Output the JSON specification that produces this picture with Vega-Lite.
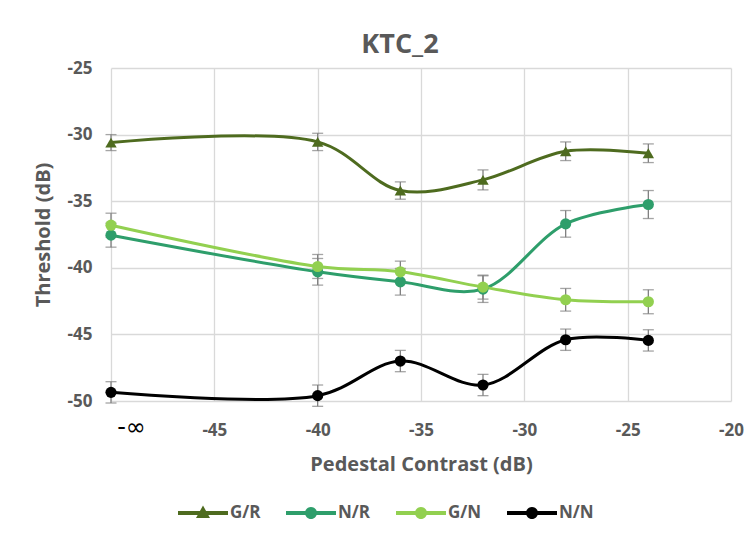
{
  "$schema": "https://vega.github.io/schema/vega-lite/v6.json",
  "width": 620,
  "height": 333,
  "autosize": {"type": "none"},
  "padding": {"left": 111, "top": 68, "right": 21, "bottom": 140},
  "background": "white",
  "title": {"text": "KTC_2", "fontSize": 27, "font": "Open Sans", "fontWeight": "bold", "color": "#595959", "anchor": "middle", "dx": -21, "offset": 0},
  "config": {
    "view": {"stroke": null},
    "font": "Open Sans",
    "axis": {
      "grid": true, "gridColor": "#d9d9d9", "gridWidth": 1.3,
      "domain": false, "ticks": false,
      "labelFont": "Open Sans", "labelFontSize": 17, "labelFontWeight": "bold", "labelColor": "#595959",
      "titleFont": "Open Sans", "titleFontSize": 20, "titleColor": "#595959", "titleFontWeight": "bold"
    }
  },
  "data": {"values": [
    {"s": "G/R", "x": -50, "y": -30.6, "lo": -31.2, "hi": -30.0},
    {"s": "G/R", "x": -40, "y": -30.55, "lo": -31.2, "hi": -29.9},
    {"s": "G/R", "x": -36, "y": -34.2, "lo": -34.85, "hi": -33.55},
    {"s": "G/R", "x": -32, "y": -33.4, "lo": -34.15, "hi": -32.65},
    {"s": "G/R", "x": -28, "y": -31.25, "lo": -31.95, "hi": -30.55},
    {"s": "G/R", "x": -24, "y": -31.4, "lo": -32.1, "hi": -30.7},
    {"s": "N/R", "x": -50, "y": -37.55, "lo": -38.45, "hi": -36.65},
    {"s": "N/R", "x": -40, "y": -40.3, "lo": -41.3, "hi": -39.3},
    {"s": "N/R", "x": -36, "y": -41.05, "lo": -42.05, "hi": -40.05},
    {"s": "N/R", "x": -32, "y": -41.6, "lo": -42.6, "hi": -40.6},
    {"s": "N/R", "x": -28, "y": -36.7, "lo": -37.7, "hi": -35.7},
    {"s": "N/R", "x": -24, "y": -35.25, "lo": -36.3, "hi": -34.2},
    {"s": "G/N", "x": -50, "y": -36.8, "lo": -37.7, "hi": -35.9},
    {"s": "G/N", "x": -40, "y": -39.9, "lo": -40.8, "hi": -39.0},
    {"s": "G/N", "x": -36, "y": -40.3, "lo": -41.1, "hi": -39.5},
    {"s": "G/N", "x": -32, "y": -41.45, "lo": -42.35, "hi": -40.55},
    {"s": "G/N", "x": -28, "y": -42.4, "lo": -43.25, "hi": -41.55},
    {"s": "G/N", "x": -24, "y": -42.55, "lo": -43.45, "hi": -41.65},
    {"s": "N/N", "x": -50, "y": -49.35, "lo": -50.15, "hi": -48.55},
    {"s": "N/N", "x": -40, "y": -49.6, "lo": -50.4, "hi": -48.8},
    {"s": "N/N", "x": -36, "y": -47.0, "lo": -47.8, "hi": -46.2},
    {"s": "N/N", "x": -32, "y": -48.8, "lo": -49.6, "hi": -48.0},
    {"s": "N/N", "x": -28, "y": -45.4, "lo": -46.2, "hi": -44.6},
    {"s": "N/N", "x": -24, "y": -45.45, "lo": -46.25, "hi": -44.65}
  ]},
  "encoding": {
    "x": {
      "field": "x", "type": "quantitative",
      "scale": {"domain": [-50, -20], "nice": false, "zero": false},
      "axis": {
        "values": [-50, -45, -40, -35, -30, -25, -20],
        "title": "Pedestal Contrast (dB)",
        "labelFlush": false,
        "labelPadding": {"condition": {"test": "datum.value === -50", "value": 26}, "value": 21},
        "titlePadding": 15,
        "labelExpr": "datum.value === -50 ? '-∞' : '' + datum.value",
        "labelColor": {"condition": {"test": "datum.value === -50", "value": "#000000"}, "value": "#595959"},
        "labelFontWeight": {"condition": {"test": "datum.value === -50", "value": "normal"}, "value": "bold"},
        "labelFontSize": {"condition": {"test": "datum.value === -50", "value": 24}, "value": 17},
        "labelFont": {"condition": {"test": "datum.value === -50", "value": "DejaVu Sans"}, "value": "Open Sans"},
        "labelBaseline": {"condition": {"test": "datum.value === -50", "value": "middle"}, "value": "top"},
        "labelOffset": {"condition": {"test": "datum.value === -50", "value": 20}, "value": 0}
      }
    },
    "y": {
      "field": "y", "type": "quantitative",
      "scale": {"domain": [-50, -25], "nice": false, "zero": false},
      "axis": {"values": [-50, -45, -40, -35, -30, -25], "title": "Threshold (dB)", "labelPadding": 19, "titlePadding": 14, "labelExpr": "'' + datum.value"}
    }
  },
  "layer": [
    {
      "mark": {"type": "point", "filled": true, "opacity": 1, "size": 0},
      "encoding": {
        "color": {"field": "s", "type": "nominal",
          "scale": {"domain": ["G/R", "N/R", "G/N", "N/N"], "range": ["#4e6b1f", "#2e9e6b", "#92d050", "#000000"]},
          "legend": {
            "orient": "none", "legendX": 67, "legendY": 420,
            "direction": "horizontal", "title": null,
            "symbolSize": 2500, "symbolStrokeWidth": 0, "symbolOpacity": 1,
            "labelFont": "Open Sans", "labelFontSize": 17, "labelFontWeight": "bold", "labelColor": "#595959",
            "labelOffset": 2, "columnPadding": 25
          }},
        "shape": {"field": "s", "type": "nominal",
          "legend": {
            "orient": "none", "legendX": 67, "legendY": 420,
            "direction": "horizontal", "title": null,
            "symbolSize": 2500, "symbolStrokeWidth": 0, "symbolOpacity": 1,
            "labelFont": "Open Sans", "labelFontSize": 17, "labelFontWeight": "bold", "labelColor": "#595959",
            "labelOffset": 2, "columnPadding": 25
          },
          "scale": {"domain": ["G/R", "N/R", "G/N", "N/N"], "range": [
            "M-1,-0.08H1V0.08H-1Z M0,-0.3L0.28,0.2L-0.28,0.2Z",
            "M-1,-0.08H1V0.08H-1Z M-0.24,0A0.24,0.24 0 1,1 0.24,0A0.24,0.24 0 1,1 -0.24,0Z",
            "M-1,-0.08H1V0.08H-1Z M-0.24,0A0.24,0.24 0 1,1 0.24,0A0.24,0.24 0 1,1 -0.24,0Z",
            "M-1,-0.08H1V0.08H-1Z M-0.24,0A0.24,0.24 0 1,1 0.24,0A0.24,0.24 0 1,1 -0.24,0Z"
          ]}}
      }
    },
    {
      "mark": {"type": "line", "interpolate": "catmull-rom", "strokeWidth": 3},
      "encoding": {
        "color": {"field": "s", "type": "nominal", "legend": null}
      }
    },
    {
      "mark": {"type": "errorbar", "ticks": {"size": 11}, "color": "#7f7f7f", "thickness": 1.3},
      "encoding": {
        "y": {"field": "lo", "type": "quantitative", "title": "Threshold (dB)"},
        "y2": {"field": "hi"}
      }
    },
    {
      "transform": [{"filter": "datum.s === 'G/R'"}],
      "mark": {"type": "point", "filled": true, "opacity": 1, "size": 130, "shape": "triangle-up"},
      "encoding": {
        "color": {"field": "s", "type": "nominal", "legend": null}
      }
    },
    {
      "transform": [{"filter": "datum.s !== 'G/R'"}],
      "mark": {"type": "point", "filled": true, "opacity": 1, "size": 125, "shape": "circle"},
      "encoding": {
        "color": {"field": "s", "type": "nominal", "legend": null}
      }
    }
  ]
}
